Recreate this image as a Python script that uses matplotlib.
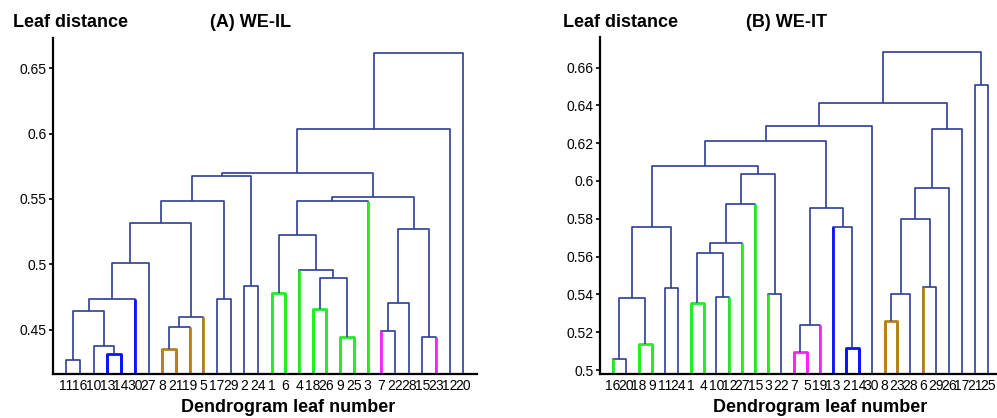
import matplotlib
matplotlib.use('Agg')
import matplotlib.pyplot as plt

plt.rcParams['font.family'] = ['Liberation Sans', 'DejaVu Sans']

# leaf order as printed under each dendrogram
leaves_A = [11, 16, 10, 13, 14, 30, 27, 8, 21, 19, 5, 17, 29, 2, 24,
            1, 6, 4, 18, 26, 9, 25, 3, 7, 22, 28, 15, 23, 12, 20]
leaves_B = [16, 20, 18, 9, 11, 24, 1, 4, 10, 12, 27, 15, 3, 22, 7,
            5, 19, 13, 2, 14, 30, 8, 23, 28, 6, 29, 26, 17, 21, 25]

# links: (left, right, height); ints are leaves, 'cK' is the K-th link
links_A = [
    (11, 16, 0.4271), (13, 14, 0.4317), (10, 'c1', 0.4378),
    ('c0', 'c2', 0.4645), ('c3', 30, 0.4737), ('c4', 27, 0.5009),
    (8, 21, 0.4355), ('c6', 19, 0.4518), ('c7', 5, 0.4597),
    ('c5', 'c8', 0.5314), (17, 29, 0.4737), ('c9', 'c10', 0.5485),
    (2, 24, 0.4838), ('c11', 'c12', 0.5678), (1, 6, 0.4780),
    (18, 26, 0.4660), (9, 25, 0.4441), ('c15', 'c16', 0.4894),
    (4, 'c17', 0.4958), ('c14', 'c18', 0.5225), ('c19', 3, 0.5485),
    (7, 22, 0.4487), ('c21', 28, 0.4703), (15, 23, 0.4441),
    ('c22', 'c23', 0.5271), ('c20', 'c24', 0.5513), ('c13', 'c25', 0.5696),
    ('c26', 12, 0.6034), ('c27', 20, 0.6612),
]
links_B = [
    (16, 20, 0.5057), (18, 9, 0.5138), ('c0', 'c1', 0.5383),
    (11, 24, 0.5432), ('c2', 'c3', 0.5758), (1, 4, 0.5353),
    (10, 12, 0.5385), ('c5', 'c6', 0.5617), ('c7', 27, 0.5670),
    ('c8', 15, 0.5878), (3, 22, 0.5400), ('c9', 'c10', 0.6035),
    ('c4', 'c11', 0.6079), (7, 5, 0.5097), ('c13', 19, 0.5238),
    (2, 14, 0.5115), (13, 'c15', 0.5758), ('c14', 'c16', 0.5859),
    ('c12', 'c17', 0.6212), ('c18', 30, 0.6291), (8, 23, 0.5261),
    ('c20', 28, 0.5402), (6, 29, 0.5437), ('c21', 'c22', 0.5797),
    ('c23', 26, 0.5965), ('c24', 17, 0.6273), ('c19', 'c25', 0.6411),
    (21, 25, 0.6508), ('c26', 'c27', 0.6681),
]

# highlighted leaves
groups_A = [('#0a14ff', [13, 14, 30]),
            ('#b8801c', [8, 21, 19, 5]),
            ('#22ee22', [1, 6, 4, 18, 26, 9, 25, 3]),
            ('#ff22ff', [7, 23])]
groups_B = [('#22ee22', [16, 18, 9, 1, 4, 12, 27, 15, 3]),
            ('#ff22ff', [7, 5, 19]),
            ('#0a14ff', [13, 2, 14]),
            ('#b8801c', [8, 23, 6])]

yticks_A = [0.45, 0.5, 0.55, 0.6, 0.65]
yticks_B = [0.5, 0.52, 0.54, 0.56, 0.58, 0.6, 0.62, 0.64, 0.66]

TREE = '#2c3d96'


def draw_tree(ax, leaves, links, groups, ybot):
    pos = {lab: i + 1 for i, lab in enumerate(leaves)}
    top = {lab: ybot - 0.01 for lab in leaves}
    leaf_col = {}
    for col, labs in groups:
        for l in labs:
            leaf_col[l] = col
    legs = []
    for k, (a, b, h) in enumerate(links):
        xa, xb = pos[a], pos[b]
        ca = leaf_col.get(a) if isinstance(a, int) else None
        cb = leaf_col.get(b) if isinstance(b, int) else None
        col = ca if (ca is not None and ca == cb) else TREE
        ax.plot([xa, xa, xb, xb], [top[a], h, h, top[b]], color=col,
                lw=1.2 if col == TREE else 2.0, solid_capstyle='butt')
        if ca:
            legs.append((xa, top[a], h, ca))
        if cb:
            legs.append((xb, top[b], h, cb))
        pos['c%d' % k] = (xa + xb) / 2
        top['c%d' % k] = h
    for x, y0, y1, c in legs:
        ax.plot([x, x], [y0, y1], color=c, lw=2.0, solid_capstyle='butt')


def style(ax, leaves, yticks, ylim):
    ax.set_xlim(0, 31)
    ax.set_ylim(*ylim)
    ax.set_xticks(range(1, 31))
    ax.set_xticklabels([str(v) for v in leaves], fontsize=10)
    ax.set_yticks(yticks)
    ax.set_yticklabels(['%g' % v for v in yticks], fontsize=10)
    ax.tick_params(axis='x', length=0, pad=3.5)
    ax.tick_params(axis='y', length=3, width=1.2, pad=1.5, direction='out')
    for s in ['top', 'right']:
        ax.spines[s].set_visible(False)
    for s in ['left', 'bottom']:
        ax.spines[s].set_linewidth(1.6)
        ax.spines[s].set_color('black')


fig = plt.figure(figsize=(9.97, 4.18), dpi=100)

axA = fig.add_axes([0.0529, 0.1053, 0.4256, 0.8038])
draw_tree(axA, leaves_A, links_A, groups_A, 0.4162)
style(axA, leaves_A, yticks_A, (0.4162, 0.673))

axB = fig.add_axes([0.6019, 0.1053, 0.402, 0.8055])
draw_tree(axB, leaves_B, links_B, groups_B, 0.4979)
style(axB, leaves_B, yticks_B, (0.4979, 0.676))

W, H = 997.0, 418.0
bold = dict(fontweight='bold', va='baseline')
fig.text(13 / W, 1 - 27 / H, 'Leaf distance', ha='left', fontsize=13, **bold)
fig.text(250 / W, 1 - 27 / H, '(A) WE-IL', ha='center', fontsize=13, **bold)
fig.text(288 / W, 1 - 412 / H, 'Dendrogram leaf number', ha='center', fontsize=13, **bold)
fig.text(563 / W, 1 - 27 / H, 'Leaf distance', ha='left', fontsize=13, **bold)
fig.text(787 / W, 1 - 27 / H, '(B) WE-IT', ha='center', fontsize=13, **bold)
fig.text(820 / W, 1 - 412 / H, 'Dendrogram leaf number', ha='center', fontsize=13, **bold)

fig.savefig('out.png', dpi=100)
